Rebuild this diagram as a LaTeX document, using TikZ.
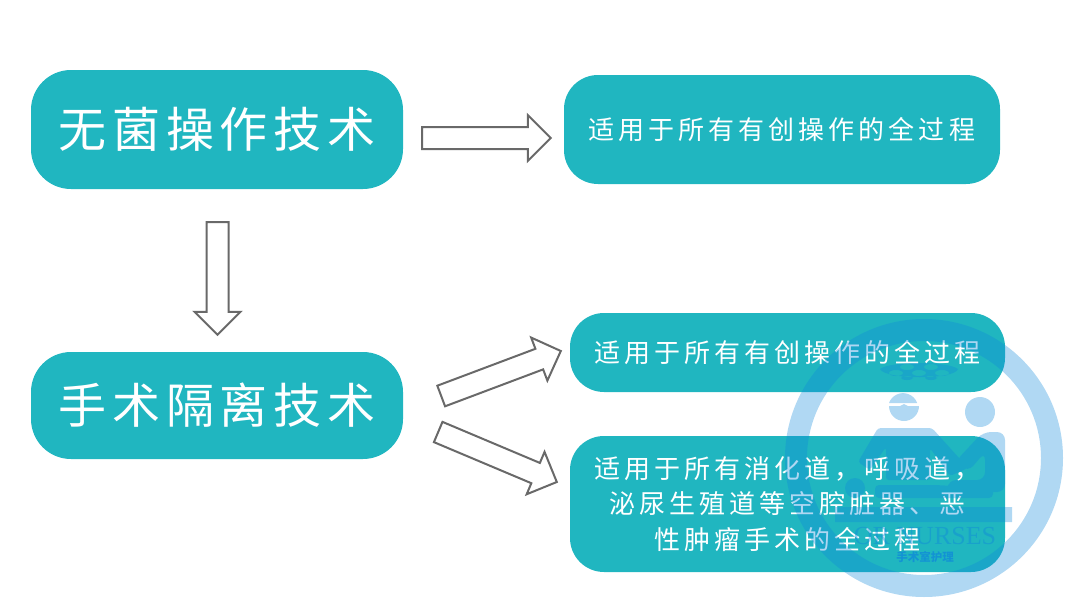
\documentclass[tikz,border=0pt]{standalone}
\usepackage{fontspec}
\newfontfamily\cjkbig[LetterSpace=12.5]{Noto Sans CJK SC}
\newfontfamily\cjksmall[LetterSpace=15.4]{Noto Sans CJK SC}
\newfontfamily\cjkplain{Noto Sans CJK SC}
\setmainfont{Liberation Serif}
\usetikzlibrary{calc,positioning}
\definecolor{boxteal}{RGB}{32,182,192}
\definecolor{arrowgray}{RGB}{105,105,105}
\definecolor{markblue}{RGB}{15,136,218}
\tikzset{
	bigbox/.style={fill=boxteal, rounded corners=40pt, text=white, align=center, inner sep=0pt, font=\fontsize{48}{50}\selectfont\cjkbig},
	smallbox/.style={fill=boxteal, rounded corners=34pt, text=white, align=center, inner sep=0pt, font=\fontsize{26}{35.5}\selectfont\cjksmall},
	blockarrow/.style={draw=arrowgray, line width=2pt, fill=white, line join=miter, to path={
		($(\tikztostart)!11pt!90:(\tikztotarget)$)
		-- ($(\tikztotarget)!23pt!(\tikztostart)!11pt!90:(\tikztotarget)$)
		-- ($(\tikztotarget)!23pt!(\tikztostart)!23pt!90:(\tikztotarget)$)
		-- (\tikztotarget)
		-- ($(\tikztotarget)!23pt!(\tikztostart)!23pt!-90:(\tikztotarget)$)
		-- ($(\tikztotarget)!23pt!(\tikztostart)!11pt!-90:(\tikztotarget)$)
		-- ($(\tikztostart)!11pt!-90:(\tikztotarget)$) -- cycle}}
}
\begin{document}
\begin{tikzpicture}[x=1pt, y=-1pt]
	\useasboundingbox (0,0) rectangle (1080,608);
	\node[bigbox, minimum width=372pt, minimum height=119pt] (aseptic) at (217,129.5) {\raisebox{2pt}{无菌操作技术}};
	\node[bigbox, minimum width=372pt, minimum height=107pt] (isolation) at (217,405.5) {\raisebox{1pt}{手术隔离技术}};
	\node[smallbox, minimum width=436pt, minimum height=109pt] (scopea) at (782,129.5) {适用于所有有创操作的全过程};
	\node[smallbox, minimum width=435pt, minimum height=79pt] (scopeb) at (787.5,352.5) {适用于所有有创操作的全过程};
	\node[smallbox, minimum width=435pt, minimum height=136pt] (scopec) at (787.5,504) {适用于所有消化道，呼吸道，\\泌尿生殖道等空腔脏器、恶\\性肿瘤手术的全过程};
	% arrow ends
	\coordinate (tailr) at ($(aseptic.east)+(19,8.5)$);
	\coordinate (tipr) at ($(scopea.west)+(-13,8.5)$);
	\coordinate (taild) at ($(aseptic.south)+(0.5,33)$);
	\coordinate (tipd) at ($(isolation.north)+(0.5,-17)$);
	\coordinate (tailb) at ($(isolation.east)+(38,-9.5)$);
	\coordinate (tipb) at ($(scopeb.west)+(-9,-1.5)$);
	\coordinate (tailc) at ($(isolation.east)+(35,26.5)$);
	\coordinate (tipc) at ($(scopec.west)+(-13,-22)$);
	\draw[blockarrow] (tailr) to (tipr);
	\draw[blockarrow] (taild) to (tipd);
	\draw[blockarrow] (tailb) to (tipb);
	\draw[blockarrow] (tailc) to (tipc);
	% watermark
	\begin{scope}[transparency group, opacity=0.33]
		\fill[markblue, even odd rule] (924,458) circle (139) (924,458) circle (117);
		\fill[markblue, even odd rule] (880,369) .. controls (890,361) and (948,361) .. (958,369) .. controls (955,380) and (885,380) .. (880,369)
			(907,367) ellipse (7 and 3) (931,367) ellipse (7 and 3)
			(896,373) ellipse (7 and 3) (919,373) ellipse (7 and 3) (942,373) ellipse (7 and 3)
			(907,378) ellipse (6 and 2) (931,378) ellipse (6 and 2);
		\fill[markblue] (889,403) arc (-160:-20:15) -- cycle;
		\fill[markblue] (889,406) -- (900,406) -- (904,404) -- (908,406) -- (919,406) arc (0:180:15) -- cycle;
		\fill[markblue] (980,412) circle (15);
		\fill[markblue, rounded corners=3pt] (878,428) -- (932,428) -- (968,468) -- (950,476) -- (930,448) -- (930,480) -- (886,480) -- (886,447) -- (870,470) -- (858,462) -- cycle;
		\fill[markblue, rounded corners=8pt] (983,432) -- (1005,432) -- (1005,492) -- (948,492) -- (948,480) -- (985,480) -- (985,452) -- (968,472) -- (955,462) -- cycle;
		\fill[markblue] (855,488) circle (10);
		\fill[markblue, rounded corners=4pt] (875,485) -- (935,485) -- (993,488) -- (993,498) -- (875,498) -- cycle;
		\fill[markblue] (835,507) rectangle (1012,522);
	\end{scope}
	\node[text=markblue, text opacity=0.45, inner sep=0pt, font=\fontsize{26}{26}\selectfont] (brand) at (925,536) {OR NURSES};
	\node[text=markblue, text opacity=0.75, inner sep=0pt, font=\fontsize{11.5}{12}\selectfont\bfseries\cjkplain, below=6pt of brand] (brandcn) {手术室护理};
\end{tikzpicture}
\end{document}
